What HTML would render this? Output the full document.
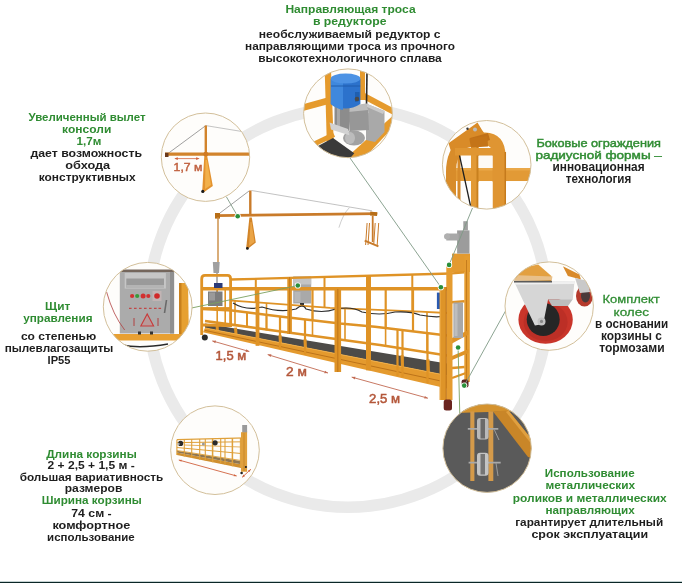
<!DOCTYPE html>
<html><head><meta charset="utf-8"><title>Люлька</title>
<style>
html,body{margin:0;padding:0;background:#fff;}
body{width:682px;height:583px;overflow:hidden;position:relative;font-family:"Liberation Sans",sans-serif;}
text{font-family:"Liberation Sans",sans-serif;}
</style></head>
<body>
<svg width="682" height="583" viewBox="0 0 682 583" style="position:absolute;left:0;top:0;will-change:transform">
<circle cx="348" cy="307.6" r="199.6" fill="none" stroke="#eaeaea" stroke-width="11.6"/>
<line x1="220" y1="213" x2="249" y2="191" stroke="#7a7a7a" stroke-width="0.7" stroke-linecap="butt"/><line x1="251.5" y1="190.5" x2="372" y2="210.8" stroke="#a8a8a8" stroke-width="0.7" stroke-linecap="butt"/><path d="M349.4,207.6 Q343,214 338.9,227.7" fill="none" stroke="#b8b8b8" stroke-width="0.7"/><line x1="215.3" y1="215.6" x2="377" y2="213.6" stroke="#c97b2a" stroke-width="2.6" stroke-linecap="butt"/><polygon points="215,213 220,213 220,218.6 215,218.6" fill="#b86e16" /><line x1="250.3" y1="190.5" x2="250.3" y2="216" stroke="#c97b2a" stroke-width="2.4" stroke-linecap="butt"/><polygon points="249.4,217.5 251.8,217.5 255.8,242.6 247,249.4 246.2,248" fill="#d28428" /><polygon points="250.5,222 251.5,222 254.5,242 249,246" fill="#eaa446" /><circle cx="247.4" cy="248.4" r="1.4" fill="#1a1a1a"/><line x1="218" y1="217" x2="218" y2="262" stroke="#c98a40" stroke-width="1.4" stroke-linecap="butt"/><polygon points="370.3,211.6 377.6,212.5 377,216 370,215.6" fill="#b86e16" /><line x1="372.7" y1="215.6" x2="372.7" y2="242" stroke="#c97b2a" stroke-width="1.8" stroke-linecap="butt"/><line x1="367.1" y1="223" x2="365.6" y2="245" stroke="#c97b2a" stroke-width="1.0" stroke-linecap="butt"/><line x1="369.5" y1="223" x2="368.0" y2="245" stroke="#c97b2a" stroke-width="1.0" stroke-linecap="butt"/><line x1="375.2" y1="223" x2="373.7" y2="245" stroke="#c97b2a" stroke-width="1.0" stroke-linecap="butt"/><line x1="378.7" y1="223" x2="377.2" y2="245" stroke="#c97b2a" stroke-width="1.0" stroke-linecap="butt"/><line x1="364.7" y1="240.6" x2="378.4" y2="246.3" stroke="#c97b2a" stroke-width="2.0" stroke-linecap="butt"/><polygon points="205,323.6 447,363.5 447,375.5 205,327.9" fill="#4d4b48" /><line x1="255.8" y1="278.82363636363635" x2="255.8" y2="302.34857142857146" stroke="#df9326" stroke-width="2.0" stroke-linecap="butt"/><line x1="324.5" y1="276.95" x2="324.5" y2="307.39591836734695" stroke="#df9326" stroke-width="2.0" stroke-linecap="butt"/><line x1="412.3" y1="274.55545454545455" x2="412.3" y2="311.27488888888894" stroke="#df9326" stroke-width="2.0" stroke-linecap="butt"/><line x1="235" y1="300.8204081632653" x2="235" y2="325.125" stroke="#df9326" stroke-width="1.6" stroke-linecap="butt"/><line x1="266.5" y1="303.13469387755106" x2="266.5" y2="329.5121212121212" stroke="#df9326" stroke-width="1.6" stroke-linecap="butt"/><line x1="312.5" y1="306.51428571428573" x2="312.5" y2="335.79545454545456" stroke="#df9326" stroke-width="1.6" stroke-linecap="butt"/><line x1="345" y1="308.43333333333334" x2="345" y2="340.22727272727275" stroke="#df9326" stroke-width="1.6" stroke-linecap="butt"/><line x1="385.6" y1="310.1475555555556" x2="385.6" y2="345.8776119402985" stroke="#df9326" stroke-width="1.6" stroke-linecap="butt"/><line x1="427" y1="311.962962962963" x2="427" y2="352.36567164179104" stroke="#df9326" stroke-width="1.6" stroke-linecap="butt"/><line x1="217" y1="324.57851239669424" x2="217.5" y2="331.26033057851237" stroke="#df9326" stroke-width="3.0" stroke-linecap="butt"/><line x1="235.5" y1="327.6287190082645" x2="236.0" y2="334.899173553719" stroke="#df9326" stroke-width="3.0" stroke-linecap="butt"/><line x1="280" y1="334.96570247933886" x2="280.5" y2="343.65206611570244" stroke="#df9326" stroke-width="3.0" stroke-linecap="butt"/><line x1="305" y1="339.08760330578514" x2="305.5" y2="348.5694214876033" stroke="#df9326" stroke-width="3.0" stroke-linecap="butt"/><line x1="402" y1="355.0805785123967" x2="402.5" y2="367.6487603305785" stroke="#df9326" stroke-width="3.0" stroke-linecap="butt"/><line x1="428" y1="359.3673553719008" x2="428.5" y2="372.76280991735536" stroke="#df9326" stroke-width="3.0" stroke-linecap="butt"/><rect x="293.2" y="276.5" width="18" height="27" fill="#a9a9a9"/><rect x="293.2" y="276.5" width="18" height="8" fill="#c4c4c4"/><rect x="294.5" y="292" width="6" height="10" fill="#b8b8b8"/><rect x="300" y="303" width="4" height="3" fill="#333"/><polyline points="231,279.5 451,273.5" fill="none" stroke="#df9326" stroke-width="2.3" stroke-linejoin="round"/><polyline points="232,300.6 330,307.8 420,311.6 447,313" fill="none" stroke="#df9326" stroke-width="1.8" stroke-linejoin="round"/><polyline points="205,321 237,325.4 270,330 380,345 447,355.5" fill="none" stroke="#df9326" stroke-width="2.6" stroke-linejoin="round"/><path d="M233,303 Q246,311 262,307 Q280,313 296,309 Q303,303 306,309 Q322,314 336,309 Q352,306 362,312 Q380,316 395,312 Q410,311 420,315 Q435,318 446,316" fill="none" stroke="#2e2e2e" stroke-width="1.2"/><polygon points="205,327.9 447,375.5 447,388.4 203,332.3" fill="#e49a2e" /><polyline points="205,330.4 447,382.3" fill="none" stroke="#b86e16" stroke-width="0.9" stroke-linejoin="round"/><polyline points="205,327.9 447,375.5" fill="none" stroke="#f0ad45" stroke-width="1.0" stroke-linejoin="round"/><line x1="201.7" y1="288.8" x2="447" y2="288.8" stroke="#df9326" stroke-width="3.6" stroke-linecap="butt"/><polyline points="202,309 232,310.5 280,316.5 340,323.5 375,326.8 447,335.5" fill="none" stroke="#df9326" stroke-width="2.5" stroke-linejoin="round"/><line x1="312.5" y1="289" x2="312.5" y2="320.2916666666667" stroke="#df9326" stroke-width="2.2" stroke-linecap="butt"/><line x1="385.7" y1="289" x2="385.7" y2="328.09291666666667" stroke="#df9326" stroke-width="2.2" stroke-linecap="butt"/><line x1="413" y1="289" x2="413" y2="331.39166666666665" stroke="#df9326" stroke-width="2.2" stroke-linecap="butt"/><line x1="289.6" y1="277" x2="289.6" y2="334" stroke="#df9326" stroke-width="4.6" stroke-linecap="butt"/><line x1="289.6" y1="277" x2="289.6" y2="334" stroke="#b86e16" stroke-width="0.7" stroke-linecap="butt"/><line x1="280" y1="316.5" x2="280" y2="349.0036885245902" stroke="#df9326" stroke-width="2.2" stroke-linecap="butt"/><line x1="305" y1="319.4166666666667" x2="305" y2="354.7516393442623" stroke="#df9326" stroke-width="2.2" stroke-linecap="butt"/><line x1="397.5" y1="329.51875" x2="397.5" y2="376.0190573770492" stroke="#df9326" stroke-width="2.2" stroke-linecap="butt"/><line x1="402.5" y1="330.1229166666667" x2="402.5" y2="377.1686475409836" stroke="#df9326" stroke-width="2.2" stroke-linecap="butt"/><line x1="427.5" y1="333.14375" x2="427.5" y2="382.9165983606557" stroke="#df9326" stroke-width="2.2" stroke-linecap="butt"/><line x1="247" y1="312.375" x2="247" y2="327.79393939393935" stroke="#df9326" stroke-width="2.0" stroke-linecap="butt"/><line x1="266.5" y1="314.8125" x2="266.5" y2="330.5121212121212" stroke="#df9326" stroke-width="2.0" stroke-linecap="butt"/><line x1="257.5" y1="289" x2="257.5" y2="345.83053278688527" stroke="#df9326" stroke-width="3.8" stroke-linecap="butt"/><line x1="368.5" y1="276" x2="368.5" y2="370.3514344262295" stroke="#df9326" stroke-width="5" stroke-linecap="butt"/><line x1="337.8" y1="289" x2="337.8" y2="372" stroke="#df9326" stroke-width="6.6" stroke-linecap="butt"/><line x1="337.8" y1="289" x2="337.8" y2="372" stroke="#b86e16" stroke-width="0.8" stroke-linecap="butt"/><polygon points="212.8,262 219.7,262 219,273 213.5,273" fill="#a0a0a0" /><line x1="217" y1="273" x2="217" y2="292" stroke="#999" stroke-width="1.5" stroke-linecap="butt"/><path d="M201.7,335 L201.7,279 Q201.7,275.4 205,275.4 L227.5,275.4 Q230.6,275.4 230.6,279 L230.6,327" fill="none" stroke="#df9326" stroke-width="2.8"/><line x1="201.7" y1="288.5" x2="232" y2="288.5" stroke="#df9326" stroke-width="2.6" stroke-linecap="butt"/><line x1="201.7" y1="308.2" x2="232" y2="308.2" stroke="#df9326" stroke-width="2.2" stroke-linecap="butt"/><line x1="201.7" y1="325" x2="231" y2="325.5" stroke="#df9326" stroke-width="2.8" stroke-linecap="butt"/><line x1="217.2" y1="290" x2="217.2" y2="326" stroke="#df9326" stroke-width="1.6" stroke-linecap="butt"/><line x1="225.2" y1="290" x2="225.2" y2="326" stroke="#df9326" stroke-width="1.6" stroke-linecap="butt"/><rect x="208" y="291.5" width="14.5" height="14.5" fill="#7d7d7d"/><rect x="209" y="292.5" width="6" height="8" fill="#9a9a9a"/><rect x="214" y="283" width="8.5" height="5" fill="#2a3a78"/><polygon points="452,253.6 470,253.6 470,272 452,272" fill="#e39a30" /><polygon points="464.3,256 469.8,256 469.8,382 464.3,382" fill="#e59c30" /><line x1="466.5" y1="260" x2="466.5" y2="380" stroke="#b86e16" stroke-width="0.7" stroke-linecap="butt"/><line x1="452" y1="273.4" x2="464.5" y2="272.4" stroke="#df9326" stroke-width="2.4" stroke-linecap="butt"/><line x1="452" y1="302.2" x2="464.5" y2="301.2" stroke="#df9326" stroke-width="2.4" stroke-linecap="butt"/><line x1="452" y1="368" x2="464.5" y2="367" stroke="#df9326" stroke-width="2.4" stroke-linecap="butt"/><polygon points="452,338 468.5,330 468.5,334.5 452,343.4" fill="#df9326" /><polygon points="452,356 468.5,349 468.5,353 452,360" fill="#df9326" /><line x1="452" y1="378" x2="466" y2="373" stroke="#df9326" stroke-width="2.2" stroke-linecap="butt"/><rect x="453.4" y="302.5" width="9.6" height="35.5" fill="#a8a8a8"/><rect x="454.5" y="304" width="3" height="32" fill="#bdbdbd"/><rect x="436.9" y="292.6" width="4.1" height="16.4" fill="#2a5ab0"/><polygon points="446.3,265 452.5,265 452.5,400 446.3,400" fill="#e59c30" /><polygon points="439.6,287 446.3,287 446.3,400 439.6,400" fill="#de9428" /><line x1="446.2" y1="287" x2="446.2" y2="400" stroke="#b86e16" stroke-width="0.9" stroke-linecap="butt"/><line x1="440.3" y1="287" x2="440.3" y2="400" stroke="#f2b450" stroke-width="0.6" stroke-linecap="butt"/><polygon points="457.1,230.4 469.5,230.4 469.5,253.6 457.1,253.6" fill="#9c9c9c" /><polygon points="446.3,233.5 458.7,233.5 458.7,240.5 446.3,240.5" fill="#a8a8a8" /><circle cx="447" cy="236.5" r="3" fill="#b0b0b0"/><polygon points="463.3,221.2 467.9,221.2 467.9,230.4 463.3,230.4" fill="#a0a0a0" /><circle cx="204.8" cy="337.6" r="3" fill="#2a2a2a"/><rect x="443.7" y="399.5" width="8.3" height="11" rx="2.5" fill="#6a2420"/><rect x="461.6" y="379.5" width="6.9" height="8" rx="2" fill="#5a2420"/>
<line x1="226.3" y1="196.7" x2="237.7" y2="216.3" stroke="#7f9a86" stroke-width="0.9" stroke-linecap="butt"/><line x1="350" y1="158" x2="440.9" y2="287.2" stroke="#7f9a86" stroke-width="0.9" stroke-linecap="butt"/><line x1="472.5" y1="208" x2="449.1" y2="264.9" stroke="#7f9a86" stroke-width="0.9" stroke-linecap="butt"/><line x1="191.5" y1="308" x2="297.8" y2="285.5" stroke="#7aa060" stroke-width="0.9" stroke-linecap="butt"/><line x1="505.5" y1="311" x2="464.2" y2="385.6" stroke="#7f9a86" stroke-width="0.9" stroke-linecap="butt"/><line x1="458.1" y1="347.5" x2="459.8" y2="415" stroke="#7aa060" stroke-width="0.9" stroke-linecap="butt"/><line x1="475" y1="466" x2="460" y2="404" stroke="#7f9a86" stroke-width="0.01" stroke-linecap="butt"/><circle cx="237.7" cy="216.3" r="3.1" fill="#fff"/><circle cx="237.7" cy="216.3" r="2.3" fill="#2a8f3a"/><circle cx="297.8" cy="285.5" r="3.1" fill="#fff"/><circle cx="297.8" cy="285.5" r="2.3" fill="#2a8f3a"/><circle cx="440.9" cy="287.2" r="3.1" fill="#fff"/><circle cx="440.9" cy="287.2" r="2.3" fill="#2a8f3a"/><circle cx="449.1" cy="264.9" r="3.1" fill="#fff"/><circle cx="449.1" cy="264.9" r="2.3" fill="#2a8f3a"/><circle cx="458.1" cy="347.5" r="3.1" fill="#fff"/><circle cx="458.1" cy="347.5" r="2.3" fill="#2a8f3a"/><circle cx="464.2" cy="385.6" r="3.1" fill="#fff"/><circle cx="464.2" cy="385.6" r="2.3" fill="#2a8f3a"/>
<line x1="212.3" y1="340.9" x2="249.3" y2="351.5" stroke="#c26a52" stroke-width="0.9" stroke-linecap="butt"/><polygon points="212.3,340.9 215.28,343.21 216.05,340.52" fill="#c26a52" /><polygon points="249.3,351.5 246.32,349.19 245.55,351.88" fill="#c26a52" /><line x1="267.7" y1="354.6" x2="328" y2="373" stroke="#c26a52" stroke-width="0.9" stroke-linecap="butt"/><polygon points="267.7,354.6 270.64,356.96 271.46,354.28" fill="#c26a52" /><polygon points="328,373 325.06,370.64 324.24,373.32" fill="#c26a52" /><line x1="351.7" y1="377.1" x2="427.9" y2="398.2" stroke="#c26a52" stroke-width="0.9" stroke-linecap="butt"/><polygon points="351.7,377.1 354.7,379.38 355.45,376.68" fill="#c26a52" /><polygon points="427.9,398.2 424.9,395.92 424.15,398.62" fill="#c26a52" /><text x="215.6" y="360.2" fill="#b4573a" font-size="12.5" font-weight="400" stroke="#b4573a" stroke-width="0.5" textLength="30.6" lengthAdjust="spacingAndGlyphs">1,5 м</text><text x="286" y="376" fill="#b4573a" font-size="12.5" font-weight="400" stroke="#b4573a" stroke-width="0.5" textLength="20.8" lengthAdjust="spacingAndGlyphs">2 м</text><text x="369.1" y="403.1" fill="#b4573a" font-size="12.5" font-weight="400" stroke="#b4573a" stroke-width="0.5" textLength="31" lengthAdjust="spacingAndGlyphs">2,5 м</text>
<clipPath id="c1"><circle cx="348.0" cy="113.3" r="44.4"/></clipPath>
<circle cx="348.0" cy="113.3" r="44.4" fill="#fefdfb"/>
<g clip-path="url(#c1)"><polygon points="324.7,70 331,70 334,150 327,150" fill="#e59a2c" /><line x1="300" y1="108.5" x2="329" y2="100.5" stroke="#e59a2c" stroke-width="6.5" stroke-linecap="butt"/><polygon points="360,68 365,68 365,100 360,100" fill="#e59a2c" /><line x1="362" y1="95" x2="396" y2="113" stroke="#e59a2c" stroke-width="6" stroke-linecap="butt"/><polygon points="346,158 392,116.5 396,124 357,166" fill="#e59a2c" /><line x1="308" y1="147" x2="334" y2="134.5" stroke="#e59a2c" stroke-width="5" stroke-linecap="butt"/><polygon points="318,146 333,138 354.3,153.3 347,162 315,162" fill="#3a3a3a" /><line x1="367" y1="72" x2="366.5" y2="105" stroke="#2a2a2a" stroke-width="1.6" stroke-linecap="butt"/><polygon points="366,103.5 384.5,111 384.5,132 375,142 366,140" fill="#a9a9a9" /><polygon points="366,103.5 384.5,111 383,114 367,107" fill="#c9c9c9" /><polygon points="348,106 366,103.5 369,113 350,116" fill="#bdbdbd" /><polygon points="348,112 368,110 369,130 350,131" fill="#979797" /><ellipse cx="354" cy="138" rx="11" ry="7.5" fill="#a2a2a2"/><ellipse cx="350" cy="138" rx="5" ry="6" fill="#bcbcbc"/><polygon points="334.5,106 349.5,106 349.5,131 334.5,128" fill="#8c8c8c" /><polygon points="337,108 340,108 340,128 337,127" fill="#a8a8a8" /><polygon points="329.6,122.5 348,129 349.4,135.2 331,129.5" fill="#d2d2d2" /><path d="M330.8,79 L360.4,79 L360.4,104 Q345.6,113 330.8,104 Z" fill="#2c72cc"/><path d="M330.8,79 L343,79 L343,110 Q335,108 330.8,104 Z" fill="#3f88dd"/><ellipse cx="345.6" cy="78.6" rx="14.8" ry="5" fill="#4c92e4"/><line x1="331" y1="86" x2="360.2" y2="86" stroke="#1d5aa8" stroke-width="0.9" stroke-linecap="butt"/><polygon points="355,92 359.5,92 359.5,101 355,102" fill="#1f5fb0" /><circle cx="357" cy="99" r="2.3" fill="#4a4a4a"/></g>
<circle cx="348.0" cy="113.3" r="44.4" fill="none" stroke="#d2bf9a" stroke-width="1"/><clipPath id="c2"><circle cx="205.5" cy="157.2" r="44.2"/></clipPath>
<circle cx="205.5" cy="157.2" r="44.2" fill="#fefdfb"/>
<g clip-path="url(#c2)"><line x1="205.8" y1="125.6" x2="168" y2="153.5" stroke="#777" stroke-width="0.7" stroke-linecap="butt"/><line x1="205.8" y1="125.6" x2="242" y2="131.5" stroke="#aaa" stroke-width="0.7" stroke-linecap="butt"/><line x1="165" y1="154.2" x2="251" y2="154.2" stroke="#d2842c" stroke-width="3.2" stroke-linecap="butt"/><polygon points="165,152.8 168.5,152.8 168.5,157 165,157" fill="#6a3a1c" /><line x1="205.8" y1="125.5" x2="205.8" y2="155" stroke="#d2842c" stroke-width="2.4" stroke-linecap="butt"/><polygon points="204.3,156 207.2,156 212.8,186 203.5,192.5 202.2,191" fill="#e3922e" /><polygon points="205.5,160 207,160 211,185 205,189" fill="#f2b04a" /><circle cx="202.8" cy="191.4" r="1.6" fill="#1a1a1a"/><circle cx="205.8" cy="154.2" r="2.4" fill="#d07a22"/><line x1="175.5" y1="158.6" x2="198.5" y2="158.6" stroke="#d0623e" stroke-width="0.8" stroke-linecap="butt"/><polygon points="174.3,158.6 177.8,157.2 177.8,160" fill="#d0623e" /><polygon points="199.6,158.6 196.1,157.2 196.1,160" fill="#d0623e" /><text x="173.6" y="170.6" fill="#c0603e" stroke="#c0603e" stroke-width="0.45" font-size="11.5" font-weight="400" textLength="28.8" lengthAdjust="spacingAndGlyphs">1,7 м</text></g>
<circle cx="205.5" cy="157.2" r="44.2" fill="none" stroke="#d2bf9a" stroke-width="1"/><clipPath id="c3"><circle cx="486.7" cy="164.8" r="44.3"/></clipPath>
<circle cx="486.7" cy="164.8" r="44.3" fill="#fefdfb"/>
<g clip-path="url(#c3)"><polygon points="455,168 535,168 535,181 455,181" fill="#e29a36" /><polygon points="455,168 535,168 535,170.5 455,170.5" fill="#eaa848" /><polygon points="457.5,150 460.5,150 460.5,212 457.5,212" fill="#d68a2a" /><polygon points="471,146 478.5,146 478.5,212 471,212" fill="#e29a36" /><polygon points="476.5,146 478.5,146 478.5,212 476.5,212" fill="#c8801e" /><path d="M499,214 L499,156 Q499,139 485,139 L470,141" fill="none" stroke="#df9532" stroke-width="13"/><path d="M505.3,214 L505.3,152" fill="none" stroke="#c57a1c" stroke-width="1.5"/><path d="M451,214 L451,172 Q451,152 464,142" fill="none" stroke="#d88c2a" stroke-width="10"/><polygon points="448.5,143.3 477.5,122.5 482,130 488,138.4 471,147 451.2,152" fill="#d98b28" /><polygon points="470,138 488,133 490,140 472,146" fill="#c07018" /><circle cx="475" cy="129.4" r="2" fill="#bbb"/><circle cx="467.5" cy="128.8" r="1.2" fill="#333"/><line x1="459.4" y1="154.9" x2="471" y2="208" stroke="#1e1e1e" stroke-width="1.3" stroke-linecap="butt"/><polygon points="478.5,182 492.5,182 492.5,214 478.5,214" fill="#ffffff" /><polygon points="506,182 532,182 532,214 506,214" fill="#ffffff" /><polygon points="478.5,156 492.5,156 492.5,168 478.5,168" fill="#fdfaf5" /><polygon points="455,148 493,148 493,155.5 455,155.5" fill="#e09632" /><polygon points="469.3,138.4 487.4,136 488,146.6 471,147.5" fill="#c47418" /></g>
<circle cx="486.7" cy="164.8" r="44.3" fill="none" stroke="#d2bf9a" stroke-width="1"/><clipPath id="c4"><circle cx="549.2" cy="306.1" r="44.2"/></clipPath>
<circle cx="549.2" cy="306.1" r="44.2" fill="#fefdfb"/>
<g clip-path="url(#c4)"><polygon points="514.3,280.2 521.8,267.9 538.2,264.6 551.4,276.1 551.4,281" fill="#e3a040" /><polygon points="562.9,266.2 579.4,274.5 581,279.4 567.9,276.1" fill="#d98a2a" /><ellipse cx="584.5" cy="296" rx="8.5" ry="10.5" fill="#b63a2c"/><ellipse cx="585.5" cy="296" rx="4.5" ry="6.5" fill="#4a3a3a"/><polygon points="575,278 588,281 590,292 580,293" fill="#c9c9c9" /><ellipse cx="545.6" cy="319.8" rx="27.2" ry="24" fill="#c9352a"/><ellipse cx="545.6" cy="322" rx="22" ry="19" fill="#b02a22" opacity="0.5"/><ellipse cx="543.2" cy="319.5" rx="16.5" ry="16.5" fill="#262626"/><polygon points="514.3,281.9 574.5,281.1 572.8,299.2 548.1,299.2 543.2,323.9 534.9,325.5 518.5,290.9" fill="#d6d6d6" /><polygon points="514.3,281.9 574.5,281.1 574,284 515,284.5" fill="#f0f0f0" /><line x1="514" y1="281.6" x2="552" y2="281.6" stroke="#5a5a5a" stroke-width="1.8" stroke-linecap="butt"/><polygon points="518.2,275.2 552.5,276.5 551.8,280 514.2,280.5" fill="#e8c08a" /><polygon points="548.1,299.2 572.8,299.2 568,306 552,306" fill="#bdbdbd" /><circle cx="541.5" cy="321.4" r="4" fill="#c4c4c4"/><circle cx="541.5" cy="321.4" r="1.6" fill="#888"/></g>
<circle cx="549.2" cy="306.1" r="44.2" fill="none" stroke="#d2bf9a" stroke-width="1"/><clipPath id="c5"><circle cx="487.1" cy="448.2" r="44.2"/></clipPath>
<circle cx="487.1" cy="448.2" r="44.2" fill="#fefdfb"/>
<g clip-path="url(#c5)"><rect x="440" y="400" width="95" height="95" fill="#5a5a5a"/><polygon points="440,400 535,400 535,411 505,411.5 455,413 440,414" fill="#d4922e" /><polygon points="493,411.5 508.5,410.5 533,441 533,458 528,457" fill="#c98628" /><polygon points="508.5,410.5 533,441 533,446 506,412" fill="#e0a040" /><polygon points="470.3,411.5 474.4,411.5 474.4,481 470.3,481" fill="#d49a4a" /><polygon points="488.4,411.5 493.3,411.5 493.3,481 488.4,481" fill="#d49a4a" /><line x1="467.8" y1="428.8" x2="498.3" y2="428.8" stroke="#a8a8a8" stroke-width="1.8" stroke-linecap="butt"/><line x1="468.6" y1="462.6" x2="500.7" y2="462.6" stroke="#a8a8a8" stroke-width="1.8" stroke-linecap="butt"/><rect x="477" y="418" width="11.5" height="21.5" rx="3" fill="#b9b9b9"/><rect x="480.5" y="419" width="4.5" height="19.5" fill="#6a6a6a"/><rect x="477" y="452.7" width="11.5" height="23" rx="3" fill="#c4c4c4"/><rect x="480.5" y="454" width="4.5" height="20.5" fill="#757575"/><line x1="494" y1="429" x2="499" y2="440" stroke="#9a9a9a" stroke-width="1.0" stroke-linecap="butt"/><line x1="496" y1="463" x2="498" y2="476" stroke="#9a9a9a" stroke-width="1.0" stroke-linecap="butt"/></g>
<circle cx="487.1" cy="448.2" r="44.2" fill="none" stroke="#d2bf9a" stroke-width="1"/><clipPath id="c6"><circle cx="215.0" cy="450.2" r="44.3"/></clipPath>
<circle cx="215.0" cy="450.2" r="44.3" fill="#fefdfb"/>
<g clip-path="url(#c6)"><polygon points="176.9,452.6 241,464.3 241,468 176.9,455.1" fill="#cf8f2e" /><polygon points="176.9,450.8 241,461 241,464.3 176.9,452.6" fill="#8f7650" /><line x1="176.9" y1="450.5" x2="241" y2="460.5" stroke="#dfa03a" stroke-width="0.9" stroke-linecap="butt"/><line x1="176.9" y1="439.7" x2="245.9" y2="437.9" stroke="#dfa03a" stroke-width="1.3" stroke-linecap="butt"/><line x1="176.9" y1="442.6" x2="243" y2="441.8" stroke="#dfa03a" stroke-width="1.0" stroke-linecap="butt"/><line x1="176.9" y1="447.5" x2="241" y2="453.5" stroke="#dfa03a" stroke-width="1.0" stroke-linecap="butt"/><line x1="184" y1="445" x2="241" y2="447" stroke="#dfa03a" stroke-width="0.8" stroke-linecap="butt"/><line x1="176.9" y1="439.7" x2="176.9" y2="455.1" stroke="#dfa03a" stroke-width="1.1" stroke-linecap="butt"/><line x1="184.3" y1="439.50759999999997" x2="184.3" y2="456.58000000000004" stroke="#dfa03a" stroke-width="1.1" stroke-linecap="butt"/><line x1="191.7" y1="439.3152" x2="191.7" y2="458.06" stroke="#dfa03a" stroke-width="1.1" stroke-linecap="butt"/><line x1="199.7" y1="439.1072" x2="199.7" y2="459.66" stroke="#dfa03a" stroke-width="1.1" stroke-linecap="butt"/><line x1="205.3" y1="438.9616" x2="205.3" y2="460.78000000000003" stroke="#dfa03a" stroke-width="1.1" stroke-linecap="butt"/><line x1="212.6" y1="438.7718" x2="212.6" y2="462.24" stroke="#dfa03a" stroke-width="1.5" stroke-linecap="butt"/><line x1="220.7" y1="438.5612" x2="220.7" y2="463.86" stroke="#dfa03a" stroke-width="1.1" stroke-linecap="butt"/><line x1="225" y1="438.44939999999997" x2="225" y2="464.72" stroke="#dfa03a" stroke-width="1.1" stroke-linecap="butt"/><line x1="232.4" y1="438.257" x2="232.4" y2="466.20000000000005" stroke="#dfa03a" stroke-width="1.5" stroke-linecap="butt"/><line x1="240.4" y1="438.049" x2="240.4" y2="467.8" stroke="#dfa03a" stroke-width="1.1" stroke-linecap="butt"/><polygon points="241,432.3 247.1,431.5 247.1,471.7 241,471.7" fill="#e0a03c" /><line x1="244" y1="433" x2="244" y2="471" stroke="#b87a20" stroke-width="0.6" stroke-linecap="butt"/><rect x="242.2" y="425" width="4.9" height="7.3" fill="#9a9a9a"/><circle cx="180.6" cy="443.4" r="2.6" fill="#2a2a2a"/><circle cx="215.1" cy="442.8" r="2.6" fill="#2a2a2a"/><circle cx="203.4" cy="444" r="1.5" fill="#9a9a9a"/><circle cx="178.5" cy="444" r="1.2" fill="#aaa"/><line x1="178.8" y1="460" x2="236.7" y2="476" stroke="#d0623e" stroke-width="0.9" stroke-linecap="butt"/><polygon points="178.8,460 181.21,461.81 181.79,459.69" fill="#d0623e" /><polygon points="236.7,476 234.29,474.19 233.71,476.31" fill="#d0623e" /><line x1="242.2" y1="477.3" x2="250.8" y2="469.3" stroke="#d0623e" stroke-width="0.9" stroke-linecap="butt"/><polygon points="242.2,477.3 245.0,476.2 243.5,474.59" fill="#d0623e" /><polygon points="250.8,469.3 248.0,470.4 249.5,472.01" fill="#d0623e" /><circle cx="241.6" cy="473" r="1.3" fill="#222"/><circle cx="245.9" cy="467" r="1.1" fill="#222"/></g>
<circle cx="215.0" cy="450.2" r="44.3" fill="none" stroke="#d2bf9a" stroke-width="1"/><clipPath id="c7"><circle cx="147.7" cy="306.8" r="44.4"/></clipPath>
<circle cx="147.7" cy="306.8" r="44.4" fill="#fefdfb"/>
<g clip-path="url(#c7)"><polygon points="179,283 188,283 189,342 179,342" fill="#e6a031" /><polygon points="179,283 181.5,283 181.5,342 179,342" fill="#c8801c" /><rect x="119.8" y="270.5" width="54.3" height="63" fill="#ababab"/><rect x="170" y="270.5" width="4.1" height="63" fill="#8f8f8f"/><rect x="119.8" y="269.5" width="54.3" height="2.5" fill="#74665c"/><rect x="124.7" y="273" width="41.2" height="15.6" fill="#c6c6c6"/><rect x="126.3" y="278.5" width="37.7" height="9" fill="#9a9a9a"/><rect x="126.3" y="285" width="37.7" height="3" fill="#b4b4b4"/><rect x="153" y="291.5" width="8" height="9" fill="#b5a8a8"/><circle cx="132.1" cy="296" r="2.1" fill="#d23030"/><circle cx="137.2" cy="296" r="2.1" fill="#3a9a3a"/><circle cx="143.1" cy="296" r="2.5" fill="#d23030"/><circle cx="148.3" cy="296" r="2.1" fill="#d23030"/><rect x="152.5" y="291" width="9" height="10" fill="#c2b4b4"/><circle cx="157" cy="296" r="2.8" fill="#d02828"/><line x1="166.5" y1="300" x2="164.5" y2="313" stroke="#6a6a6a" stroke-width="1.6" stroke-linecap="butt"/><line x1="129" y1="308.4" x2="131.6" y2="308.4" stroke="#c04848" stroke-width="1.3" stroke-linecap="butt"/><line x1="134" y1="308.4" x2="136.6" y2="308.4" stroke="#c04848" stroke-width="1.3" stroke-linecap="butt"/><line x1="139" y1="308.4" x2="141.6" y2="308.4" stroke="#c04848" stroke-width="1.3" stroke-linecap="butt"/><line x1="144" y1="308.4" x2="146.6" y2="308.4" stroke="#c04848" stroke-width="1.3" stroke-linecap="butt"/><line x1="149" y1="308.4" x2="151.6" y2="308.4" stroke="#c04848" stroke-width="1.3" stroke-linecap="butt"/><line x1="154" y1="308.4" x2="156.6" y2="308.4" stroke="#c04848" stroke-width="1.3" stroke-linecap="butt"/><line x1="158.5" y1="308.4" x2="161.1" y2="308.4" stroke="#c04848" stroke-width="1.3" stroke-linecap="butt"/><path d="M140.8,326 L147.2,314 L153.6,326 Z" fill="#b89a9a" stroke="#c83a3a" stroke-width="1.1"/><line x1="134" y1="318" x2="134" y2="326" stroke="#b04040" stroke-width="1" stroke-linecap="butt"/><line x1="158" y1="318" x2="158" y2="326" stroke="#b04040" stroke-width="1" stroke-linecap="butt"/><rect x="109.5" y="334" width="79.5" height="6.5" fill="#e8a032"/><path d="M106.6,292 Q113,315 124.7,330" fill="none" stroke="#b04040" stroke-width="0.8"/><path d="M122,345 Q140,349 168,344" fill="none" stroke="#2a2a2a" stroke-width="1.4"/><rect x="138" y="331.5" width="3" height="3" fill="#333"/><rect x="150" y="331.5" width="3" height="3" fill="#333"/></g>
<circle cx="147.7" cy="306.8" r="44.4" fill="none" stroke="#d2bf9a" stroke-width="1"/>
<g font-family="Liberation Sans, sans-serif">
<text x="285.40" y="13.00" fill="#2f8c32" font-weight="700" font-size="11" textLength="130.20" lengthAdjust="spacingAndGlyphs">Направляющая троса</text>
<text x="312.90" y="25.20" fill="#2f8c32" font-weight="700" font-size="11" textLength="73.60" lengthAdjust="spacingAndGlyphs">в редукторе</text>
<text x="258.80" y="37.70" fill="#1e1e1e" font-weight="700" font-size="11" textLength="181.80" lengthAdjust="spacingAndGlyphs">необслуживаемый редуктор с</text>
<text x="245.00" y="49.70" fill="#1e1e1e" font-weight="700" font-size="11" textLength="210.00" lengthAdjust="spacingAndGlyphs">направляющими троса из прочного</text>
<text x="258.20" y="61.60" fill="#1e1e1e" font-weight="700" font-size="11" textLength="183.60" lengthAdjust="spacingAndGlyphs">высокотехнологичного сплава</text>
<text x="28.50" y="121.00" fill="#2f8c32" font-weight="700" font-size="11.5" textLength="117.10" lengthAdjust="spacingAndGlyphs">Увеличенный вылет</text>
<text x="62.10" y="132.70" fill="#2f8c32" font-weight="700" font-size="11.5" textLength="49.20" lengthAdjust="spacingAndGlyphs">консоли</text>
<text x="76.50" y="145.00" fill="#2f8c32" font-weight="700" font-size="11.5" textLength="24.80" lengthAdjust="spacingAndGlyphs">1,7м</text>
<text x="30.40" y="157.40" fill="#1e1e1e" font-weight="700" font-size="11.5" textLength="111.60" lengthAdjust="spacingAndGlyphs">дает возможность</text>
<text x="65.30" y="169.00" fill="#1e1e1e" font-weight="700" font-size="11.5" textLength="44.90" lengthAdjust="spacingAndGlyphs">обхода</text>
<text x="38.80" y="181.40" fill="#1e1e1e" font-weight="700" font-size="11.5" textLength="96.80" lengthAdjust="spacingAndGlyphs">конструктивных</text>
<text x="45.10" y="310.00" fill="#2f8c32" font-weight="700" font-size="11.5" textLength="25.20" lengthAdjust="spacingAndGlyphs">Щит</text>
<text x="23.20" y="321.90" fill="#2f8c32" font-weight="700" font-size="11.5" textLength="69.30" lengthAdjust="spacingAndGlyphs">управления</text>
<text x="20.90" y="340.10" fill="#1e1e1e" font-weight="700" font-size="11.5" textLength="75.30" lengthAdjust="spacingAndGlyphs">со степенью</text>
<text x="4.70" y="352.00" fill="#1e1e1e" font-weight="700" font-size="11.5" textLength="108.70" lengthAdjust="spacingAndGlyphs">пылевлагозащиты</text>
<text x="47.60" y="363.90" fill="#1e1e1e" font-weight="700" font-size="11.5" textLength="22.90" lengthAdjust="spacingAndGlyphs">IP55</text>
<text x="46.20" y="457.60" fill="#2f8c32" font-weight="700" font-size="11.5" textLength="90.60" lengthAdjust="spacingAndGlyphs">Длина корзины</text>
<text x="47.60" y="469.10" fill="#1e1e1e" font-weight="700" font-size="11.5" textLength="87.10" lengthAdjust="spacingAndGlyphs">2 + 2,5 + 1,5 м -</text>
<text x="19.70" y="480.60" fill="#1e1e1e" font-weight="700" font-size="11.5" textLength="143.60" lengthAdjust="spacingAndGlyphs">большая вариативность</text>
<text x="64.70" y="492.10" fill="#1e1e1e" font-weight="700" font-size="11.5" textLength="57.60" lengthAdjust="spacingAndGlyphs">размеров</text>
<text x="41.80" y="504.20" fill="#2f8c32" font-weight="700" font-size="11.5" textLength="99.90" lengthAdjust="spacingAndGlyphs">Ширина корзины</text>
<text x="71.30" y="516.50" fill="#1e1e1e" font-weight="700" font-size="11.5" textLength="40.40" lengthAdjust="spacingAndGlyphs">74 см -</text>
<text x="52.40" y="529.20" fill="#1e1e1e" font-weight="700" font-size="11.5" textLength="77.80" lengthAdjust="spacingAndGlyphs">комфортное</text>
<text x="47.10" y="541.20" fill="#1e1e1e" font-weight="700" font-size="11.5" textLength="87.60" lengthAdjust="spacingAndGlyphs">использование</text>
<text x="536.40" y="146.60" fill="#2f8c32" font-weight="400" font-size="11.5" textLength="124.50" lengthAdjust="spacingAndGlyphs" stroke="#2f8c32" stroke-width="0.45">Боковые ограждения</text>
<text x="535.40" y="158.70" fill="#2f8c32" font-weight="400" font-size="11.5" textLength="126.50" lengthAdjust="spacingAndGlyphs" stroke="#2f8c32" stroke-width="0.45">радиусной формы  –</text>
<text x="552.50" y="171.00" fill="#1e1e1e" font-weight="700" font-size="12" textLength="92.10" lengthAdjust="spacingAndGlyphs">инновационная</text>
<text x="565.80" y="182.80" fill="#1e1e1e" font-weight="700" font-size="12" textLength="65.50" lengthAdjust="spacingAndGlyphs">технология</text>
<text x="602.40" y="303.20" fill="#2f8c32" font-weight="400" font-size="11.2" textLength="57.40" lengthAdjust="spacingAndGlyphs" stroke="#2f8c32" stroke-width="0.28">Комплект</text>
<text x="613.60" y="315.60" fill="#2f8c32" font-weight="400" font-size="11.5" textLength="35.40" lengthAdjust="spacingAndGlyphs" stroke="#2f8c32" stroke-width="0.28">колес</text>
<text x="595.00" y="328.20" fill="#1e1e1e" font-weight="700" font-size="12.5" textLength="73.20" lengthAdjust="spacingAndGlyphs">в основании</text>
<text x="601.00" y="339.80" fill="#1e1e1e" font-weight="700" font-size="12.5" textLength="60.90" lengthAdjust="spacingAndGlyphs">корзины с</text>
<text x="599.20" y="351.90" fill="#1e1e1e" font-weight="700" font-size="12.5" textLength="65.40" lengthAdjust="spacingAndGlyphs">тормозами</text>
<text x="544.80" y="476.70" fill="#2f8c32" font-weight="700" font-size="11.5" textLength="89.90" lengthAdjust="spacingAndGlyphs">Использование</text>
<text x="545.40" y="489.40" fill="#2f8c32" font-weight="700" font-size="11.5" textLength="89.70" lengthAdjust="spacingAndGlyphs">металлических</text>
<text x="512.80" y="501.80" fill="#2f8c32" font-weight="700" font-size="11.5" textLength="153.90" lengthAdjust="spacingAndGlyphs">роликов и металлических</text>
<text x="545.40" y="513.60" fill="#2f8c32" font-weight="700" font-size="11.5" textLength="89.30" lengthAdjust="spacingAndGlyphs">направляющих</text>
<text x="515.20" y="526.10" fill="#1e1e1e" font-weight="700" font-size="11.5" textLength="148.00" lengthAdjust="spacingAndGlyphs">гарантирует длительный</text>
<text x="531.40" y="537.90" fill="#1e1e1e" font-weight="700" font-size="11.5" textLength="116.70" lengthAdjust="spacingAndGlyphs">срок эксплуатации</text>
</g>
<rect x="0" y="581" width="682" height="1" fill="#c4d2d2"/>
<rect x="0" y="582" width="682" height="1" fill="#0a2626"/>
</svg>
</body></html>
